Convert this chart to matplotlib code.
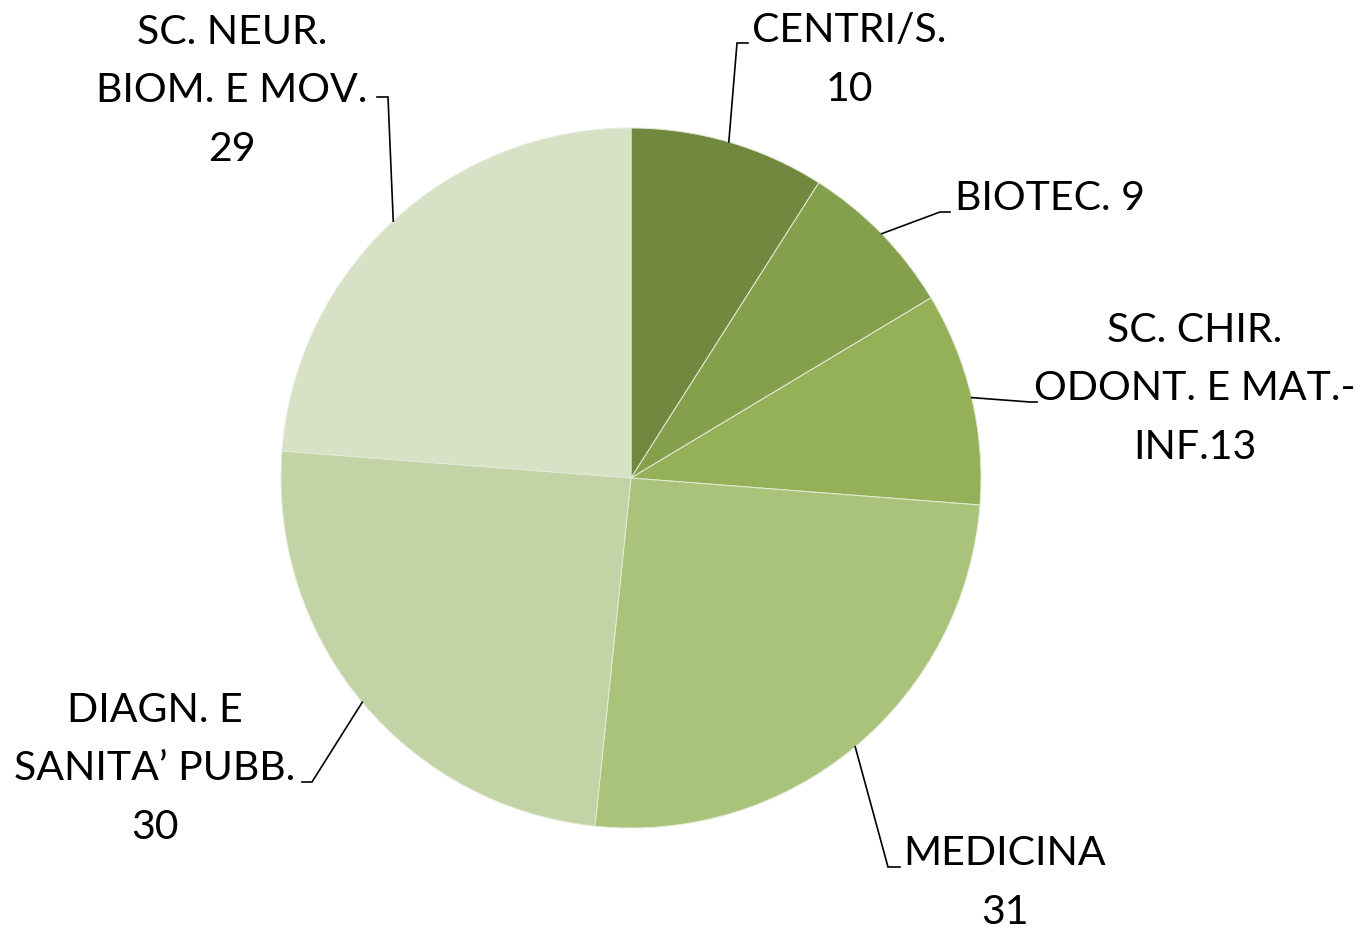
import matplotlib
matplotlib.use("Agg")
import matplotlib.pyplot as plt
import numpy as np

# slice sizes read from the wedge geometry (the typed labels in the
# original say 10 / 13 for the first and third ones)
categories = ["CENTRI/S.", "BIOTEC.", "SC. CHIR.", "MEDICINA", "DIAGN.", "SC. NEUR."]
values = [11, 9, 12, 31, 30, 29]
label_texts = [
    "CENTRI/S.\n10",
    "BIOTEC. 9",
    "SC. CHIR.\nODONT. E MAT.-\nINF.13",
    "MEDICINA\n31",
    "DIAGN. E\nSANITA\u2019 PUBB.\n30",
    "SC. NEUR.\nBIOM. E MOV.\n29",
]
colors = ["#71893f", "#84a04c", "#94b157", "#a9c47a", "#c2d3a5", "#d7e1c5"]

# layout in pixel coordinates (y downwards)
W, H = 1356, 933
CENTER = (631, 478)
RADIUS = 350
# (text x, text y, ha, elbow x, elbow y, end x)
label_layout = [
    (849, 60, "center", 737, 43, 748),
    (955, 198, "left", 940, 212, 950),
    (1195, 389, "center", 1030, 402, 1037),
    (1005, 883, "center", 888, 867, 900),
    (155, 769, "center", 312, 782, 302),
    (232, 91, "center", 388, 97, 377),
]

plt.rcParams["font.family"] = ["Lato", "DejaVu Sans"]

fig = plt.figure(figsize=(W / 100, H / 100), dpi=100)
ax = fig.add_axes([0, 0, 1, 1])

wedges, _ = ax.pie(values, colors=colors, center=CENTER, radius=RADIUS,
                   startangle=-90, counterclock=True,
                   wedgeprops=dict(edgecolor="#e4ead9", linewidth=0.7))
ax.set_xlim(0, W)
ax.set_ylim(H, 0)
ax.set_aspect("equal")
ax.axis("off")

for w, txt, (tx, ty, ha, ex, ey, endx) in zip(wedges, label_texts, label_layout):
    mid = np.deg2rad((w.theta1 + w.theta2) / 2)
    ax_ = CENTER[0] + RADIUS * np.cos(mid)
    ay_ = CENTER[1] + RADIUS * np.sin(mid)
    ax.plot([ax_, ex, endx], [ay_, ey, ey], color="black", lw=1.2,
            solid_joinstyle="miter")
    ax.text(tx, ty, txt, ha=ha, va="center", multialignment="center",
            fontsize=29.5, linespacing=1.73, color="black")

fig.savefig("out.png", dpi=100)
